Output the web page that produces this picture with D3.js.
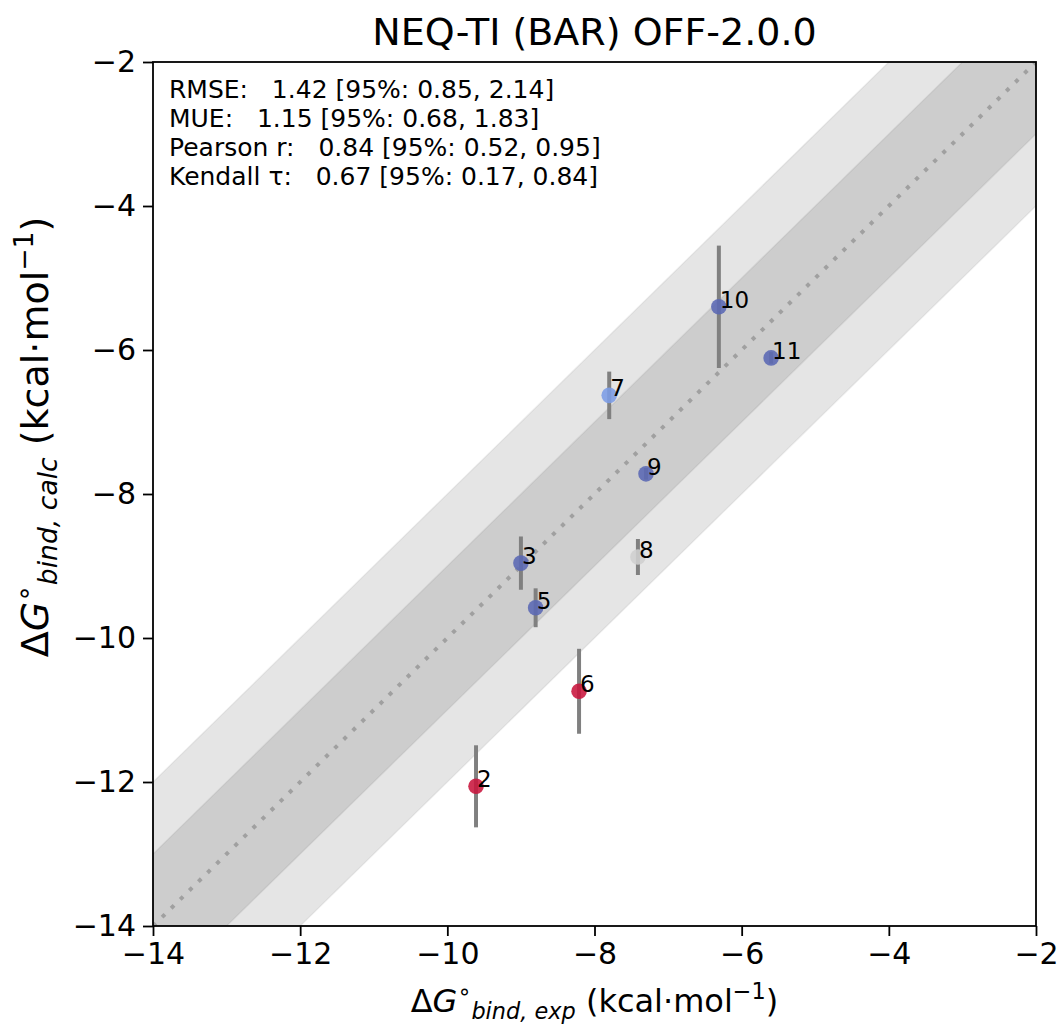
<!DOCTYPE html>
<html>
<head>
<meta charset="utf-8">
<script src="https://cdn.jsdelivr.net/npm/d3@7"></script>
<style>
  body { margin: 0; background: #fff; }
  text { font-family: "DejaVu Sans", sans-serif; }
</style>
</head>
<body>
<div id="chart-container"></div>
<script>
// ligand labels, experimental and calculated dG (kcal/mol), calc error
const labels = ["2", "3", "5", "6", "7", "8", "9", "10", "11"];
const expValues = [-9.61, -9.0, -8.8, -8.21, -7.8, -7.41, -7.3, -6.31, -5.6];
const calcValues = [-12.06, -8.96, -9.58, -10.74, -6.63, -8.875, -7.72, -5.40, -6.11];
const calcErrors = [0.57, 0.37, 0.27, 0.59, 0.33, 0.25, 0.08, 0.85, 0.08];
const pointColors = ["#c8143c", "#5a68b4", "#5a68b4", "#c8143c", "#7b9ce6", "#cfcfcf", "#5a68b4", "#5a68b4", "#5a68b4"];

const xTicks = [-14, -12, -10, -8, -6, -4, -2];
const yTicks = [-14, -12, -10, -8, -6, -4, -2];
const statLines = [
  "RMSE:   1.42 [95%: 0.85, 2.14]",
  "MUE:   1.15 [95%: 0.68, 1.83]",
  "Pearson r:   0.84 [95%: 0.52, 0.95]",
  "Kendall \u03c4:   0.67 [95%: 0.17, 0.84]"
];
const title = "NEQ-TI (BAR) OFF-2.0.0";

const dataset = labels.map((l, i) => ({
  label: l,
  exp: expValues[i],
  calc: calcValues[i],
  err: calcErrors[i],
  color: pointColors[i]
}));

const W = 1061, H = 1025;
const margin = { top: 62, right: 25, bottom: 99, left: 153 };
const width = W - margin.left - margin.right;
const height = H - margin.top - margin.bottom;

const x = d3.scaleLinear().domain([-14, -2]).range([0, width]);
const y = d3.scaleLinear().domain([-14, -2]).range([height, 0]);

const svg = d3.select("#chart-container")
  .append("svg")
  .attr("width", W)
  .attr("height", H);

svg.append("defs").append("clipPath").attr("id", "plot-clip")
  .append("rect").attr("width", width).attr("height", height);

const g = svg.append("g").attr("transform", `translate(${margin.left}, ${margin.top})`);
const plot = g.append("g").attr("clip-path", "url(#plot-clip)");

// shaded bands y = x +/- 1 and +/- 2
const lo = -16, hi = 0;
[2, 1].forEach((d) => {
  const band = [[lo, lo - d], [hi, hi - d], [hi, hi + d], [lo, lo + d]];
  plot.append("path")
    .attr("d", d3.line().x((p) => x(p[0])).y((p) => y(p[1]))(band) + "Z")
    .attr("fill", "#000")
    .attr("fill-opacity", 0.1)
    .attr("stroke", "#000")
    .attr("stroke-opacity", 0.06)
    .attr("stroke-width", 1.5);
});

// identity line
plot.append("line")
  .attr("x1", x(-14)).attr("y1", y(-14))
  .attr("x2", x(-2)).attr("y2", y(-2))
  .attr("stroke", "#a0a0a0")
  .attr("stroke-width", 4)
  .attr("stroke-dasharray", "4,8.7");

// error bars
plot.selectAll(".errbar")
  .data(dataset)
  .join("line")
  .attr("class", "errbar")
  .attr("x1", (d) => x(d.exp))
  .attr("x2", (d) => x(d.exp))
  .attr("y1", (d) => y(d.calc - d.err))
  .attr("y2", (d) => y(d.calc + d.err))
  .attr("stroke", "#808080")
  .attr("stroke-width", 4);

// points
plot.selectAll(".pt")
  .data(dataset)
  .join("circle")
  .attr("class", "pt")
  .attr("cx", (d) => x(d.exp))
  .attr("cy", (d) => y(d.calc))
  .attr("r", 7.8)
  .attr("fill", (d) => d.color)
  .attr("fill-opacity", 0.88);

// point labels
plot.selectAll(".lbl")
  .data(dataset)
  .join("text")
  .attr("class", "lbl")
  .attr("x", (d) => x(d.exp) + 1)
  .attr("y", (d) => y(d.calc) + 1)
  .style("font-size", "23px")
  .attr("fill", "#000")
  .text((d) => d.label);

// stats text
g.append("text")
  .attr("x", 16)
  .attr("y", 36)
  .style("font-size", "25px")
  .selectAll("tspan")
  .data(statLines)
  .join("tspan")
  .attr("x", 16)
  .attr("dy", (d, i) => (i === 0 ? 0 : 29))
  .attr("xml:space", "preserve")
  .style("white-space", "pre")
  .text((d) => d);

// axes
const xAxis = g.append("g")
  .attr("transform", `translate(0, ${height})`)
  .call(d3.axisBottom(x).tickValues(xTicks).tickSize(10).tickPadding(7)
    .tickFormat((d) => "\u2212" + Math.abs(d)));
const yAxis = g.append("g")
  .call(d3.axisLeft(y).tickValues(yTicks).tickSize(10).tickPadding(7)
    .tickFormat((d) => "\u2212" + Math.abs(d)));
[xAxis, yAxis].forEach((a) => {
  a.select(".domain").remove();
  a.selectAll(".tick line").attr("stroke", "#000").attr("stroke-width", 1.8);
  a.selectAll(".tick text")
    .attr("fill", "#000")
    .style("font-size", "30px")
    .style("font-family", "'DejaVu Sans', sans-serif");
});

// frame
g.append("rect")
  .attr("width", width)
  .attr("height", height)
  .attr("fill", "none")
  .attr("stroke", "#000")
  .attr("stroke-width", 1.8);

// title
svg.append("text")
  .attr("x", margin.left + width / 2)
  .attr("y", 45)
  .attr("text-anchor", "middle")
  .style("font-size", "38px")
  .text(title);

// axis label builder: ΔG°_{sub} (kcal·mol^-1)
function axisLabel(sel, sub, fs) {
  const small = fs * 0.7;
  sel.style("font-size", fs + "px");
  sel.append("tspan").text("\u0394");
  sel.append("tspan").style("font-style", "italic").text("G");
  sel.append("tspan").attr("dy", -fs * 0.4).style("font-size", small + "px").text("\u2218");
  sel.append("tspan").attr("dy", fs * 0.63).style("font-size", small + "px").style("font-style", "italic").text(sub);
  sel.append("tspan").attr("dy", -fs * 0.23).text(" (kcal\u00b7mol");
  sel.append("tspan").attr("dy", -fs * 0.4).style("font-size", small + "px").text("\u22121");
  sel.append("tspan").attr("dy", fs * 0.4).text(")");
}

// x-axis label
const xl = svg.append("text")
  .attr("x", margin.left + width / 2)
  .attr("y", 1012)
  .attr("text-anchor", "middle");
axisLabel(xl, "bind, exp", 32);

// y-axis label
const yl = svg.append("text")
  .attr("transform", "translate(48, 437) rotate(-90)")
  .attr("text-anchor", "middle");
axisLabel(yl, "bind, calc", 38);
</script>
</body>
</html>
